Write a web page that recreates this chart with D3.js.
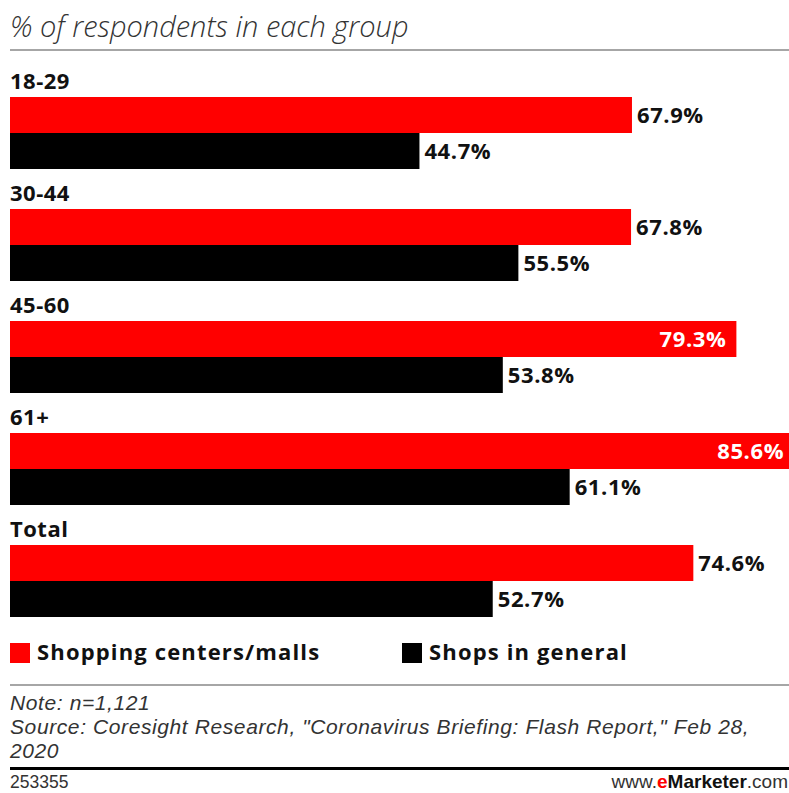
<!DOCTYPE html>
<html>
<head>
<meta charset="utf-8">
<script src="https://cdn.jsdelivr.net/npm/d3@7"></script>
<style>
  html, body { margin: 0; padding: 0; background: #fff; }
  svg { display: block; }
  .bold { font-family: "Open Sans", "Liberation Sans", sans-serif; font-weight: 700; fill: #111; }
  .ital { font-family: "Open Sans", "Liberation Sans", sans-serif; font-style: italic; fill: #333; }
  .note { font-family: "Liberation Sans", Arial, sans-serif; font-style: italic; fill: #333; }
</style>
</head>
<body>
<svg id="chart" width="789" height="793"></svg>
<script>
// Age groups and the two venue types surveyed
const categories = ["18-29", "30-44", "45-60", "61+", "Total"];
const seriesNames = ["Shopping centers/malls", "Shops in general"];
const mallsValues = [67.9, 67.8, 79.3, 85.6, 74.6];
const shopsValues = [44.7, 55.5, 53.8, 61.1, 52.7];
const seriesColors = ["#ff0000", "#000000"];

const titleText = "% of respondents in each group";
const noteLines = [
  "Note: n=1,121",
  "Source: Coresight Research, \"Coronavirus Briefing: Flash Report,\" Feb 28,",
  "2020"
];
const chartId = "253355";

const W = 789, H = 793;
const svg = d3.select("#chart");

svg.append("rect").attr("width", W).attr("height", H).attr("fill", "#fff");

// Title and rule below it
svg.append("text").attr("class", "ital")
  .attr("x", 10).attr("y", 37)
  .style("font-size", "29px").style("font-weight", 300)
  .text(titleText);
svg.append("rect").attr("x", 10).attr("y", 49).attr("width", W - 10).attr("height", 2).attr("fill", "#a6a6a6");

// Scales
const x = d3.scaleLinear().domain([0, 100]).range([10, 10 + 916]);
const groupStep = 112;
const y = d3.scaleBand().domain(categories).range([97, 97 + groupStep * categories.length]).paddingInner(0);
const ySeries = d3.scaleBand().domain(d3.range(seriesNames.length)).range([0, 72]);

const rows = categories.map((c, i) => ({
  cat: c,
  vals: [mallsValues[i], shopsValues[i]]
}));

const g = svg.append("g");
const grp = g.selectAll("g.grp").data(rows).join("g")
  .attr("class", "grp")
  .attr("transform", d => `translate(0,${y(d.cat)})`);

grp.append("text").attr("class", "bold")
  .attr("x", 10).attr("y", -8)
  .style("font-size", "22px").style("letter-spacing", "0.5px")
  .text(d => d.cat);

const bars = grp.selectAll("g.bar").data(d => d.vals.map((v, k) => ({ v, k }))).join("g").attr("class", "bar");

bars.append("rect")
  .attr("x", x(0))
  .attr("y", d => ySeries(d.k))
  .attr("width", d => x(d.v) - x(0))
  .attr("height", ySeries.bandwidth())
  .attr("fill", d => seriesColors[d.k]);

// Value labels: outside the bar end, or inside in white when there is no room
bars.append("text").attr("class", "bold")
  .style("font-size", "22px").style("letter-spacing", "0.6px")
  .attr("y", d => ySeries(d.k) + ySeries.bandwidth() / 2)
  .attr("dy", "0.36em")
  .text(d => d3.format(".1f")(d.v) + "%")
  .each(function (d) {
    const t = d3.select(this);
    const w = this.getComputedTextLength();
    const end = x(d.v);
    if (end + 5 + w > W) {
      t.attr("x", end - 10).attr("text-anchor", "end").style("fill", "#fff");
    } else {
      t.attr("x", end + 5).attr("text-anchor", "start");
    }
  });

// Legend
const legendX = [10, 402];
const leg = svg.append("g").selectAll("g").data(seriesNames).join("g")
  .attr("transform", (d, i) => `translate(${legendX[i]},643)`);
leg.append("rect").attr("width", 20).attr("height", 20).attr("fill", (d, i) => seriesColors[i]);
leg.append("text").attr("class", "bold")
  .attr("x", 27).attr("y", 17)
  .style("font-size", "22px").style("letter-spacing", "1.15px")
  .text(d => d);

// Footer
svg.append("rect").attr("x", 10).attr("y", 684).attr("width", W - 10).attr("height", 2).attr("fill", "#a6a6a6");
svg.append("g").selectAll("text").data(noteLines).join("text")
  .attr("class", "note")
  .attr("x", 10).attr("y", (d, i) => 710 + i * 24)
  .style("font-size", "21px").style("letter-spacing", "0.6px")
  .text(d => d);
svg.append("rect").attr("x", 10).attr("y", 767).attr("width", W - 10).attr("height", 3).attr("fill", "#000");
svg.append("text")
  .attr("x", 10).attr("y", 788)
  .style("font-family", "'Liberation Sans', Arial, sans-serif")
  .style("font-size", "17.5px").style("fill", "#333")
  .text(chartId);

const brand = svg.append("text")
  .attr("x", 788).attr("y", 788).attr("text-anchor", "end")
  .style("font-family", "'Liberation Sans', Arial, sans-serif")
  .style("font-size", "19px");
brand.append("tspan").style("fill", "#333").text("www.");
brand.append("tspan").style("fill", "#ff0000").style("font-weight", 700).text("e");
brand.append("tspan").style("fill", "#111").style("font-weight", 700).text("Marketer");
brand.append("tspan").style("fill", "#333").text(".com");
</script>
</body>
</html>
